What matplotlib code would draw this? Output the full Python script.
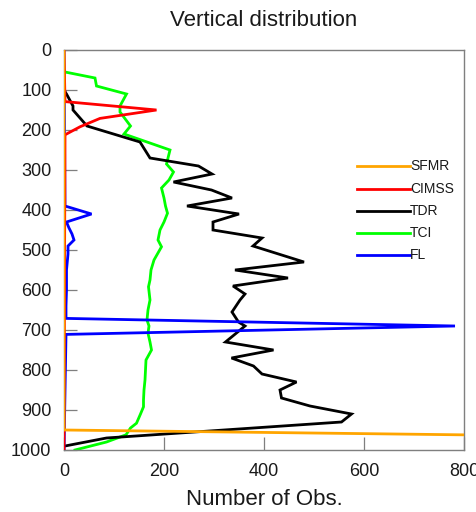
import matplotlib
matplotlib.use("Agg")
import matplotlib.pyplot as plt

plt.rcParams["font.family"] = ["Liberation Sans", "DejaVu Sans"]

# Pressure levels (hPa) and observation counts for each platform
tdr_p = [100, 110, 140, 150, 190, 230, 250, 270, 290, 310, 330, 350, 370, 390,
         410, 430, 450, 470, 490, 530, 550, 570, 590, 610, 625, 655, 680, 690,
         730, 750, 770, 790, 810, 830, 850, 870, 890, 910, 930, 970, 990]
tdr_n = [0, 5, 18, 18, 46, 152, 162, 172, 269, 296, 219, 295, 336, 246,
         350, 298, 298, 396, 378, 480, 342, 448, 338, 362, 352, 336, 349, 362,
         323, 419, 335, 379, 396, 465, 432, 435, 492, 575, 555, 85, 2]

tci_p = [50, 55, 70, 90, 110, 140, 155, 190, 210, 250, 285, 305, 325, 345,
         370, 390, 408, 430, 450, 475, 492, 525, 550, 575, 592, 625, 650, 675,
         690, 708, 730, 750, 775, 800, 825, 850, 875, 892, 910, 933, 945, 962,
         980, 1000]
tci_n = [0, 2, 62, 65, 125, 112, 112, 133, 120, 212, 205, 219, 210, 195,
         200, 203, 207, 200, 192, 188, 195, 180, 174, 172, 169, 172, 168, 166,
         170, 168, 172, 175, 164, 163, 162, 160, 159, 159, 153, 145, 133, 124,
         85, 22]

cimss_p = [0, 129, 150, 171, 192, 212, 950, 1000]
cimss_n = [0, 2, 185, 72, 32, 2, 0, 0]

fl_p = [0, 390, 410, 430, 445, 460, 475, 490, 510, 550, 600, 640, 671, 690, 711, 1000]
fl_n = [0, 2, 55, 5, 10, 16, 20, 8, 8, 5, 5, 4, 4, 782, 4, 0]

sfmr_p = [0, 950, 1000]
sfmr_n = [0, 0, 3300]

series = [
    ("SFMR", sfmr_n, sfmr_p, "#FFA500", 6),
    ("CIMSS", cimss_n, cimss_p, "#FF0000", 5.5),
    ("TDR", tdr_n, tdr_p, "#000000", 3),
    ("TCI", tci_n, tci_p, "#00FF00", 2),
    ("FL", fl_n, fl_p, "#0000FF", 5),
]

fig = plt.figure(figsize=(4.77, 5.12), dpi=100)
ax = fig.add_axes([64 / 477, 1 - 450 / 512, 400 / 477, 400 / 512])

for name, n, p, color, z in series:
    ax.plot(n, p, color=color, lw=2.0, zorder=z, solid_joinstyle="miter",
            clip_on=True)

ax.set_xlim(0, 800)
ax.set_ylim(1000, 0)
ax.set_xticks([0, 200, 400, 600, 800])
ax.set_yticks(range(0, 1001, 100))

frame_gray = "#7f7f7f"
for s in ax.spines.values():
    s.set_color(frame_gray)
    s.set_linewidth(1.0)
ax.tick_params(direction="in", length=9.5, width=0.9, color=frame_gray,
               labelsize=13, labelcolor="#1a1a1a", top=False, right=False)
ax.tick_params(axis="y", pad=9)
ax.tick_params(axis="x", pad=9)

ax.set_title("Vertical distribution", fontsize=16, color="#1a1a1a", pad=17.5)
ax.set_xlabel("Number of Obs.", fontsize=16, color="#1a1a1a", labelpad=7)

# Legend: short line samples with labels at their right end
leg_y = [166, 189, 211, 233, 255]
for (name, n, p, color, z), yp in zip(series, leg_y):
    ya = (450 - yp) / 400
    ax.plot([(357 - 64) / 400, (410 - 64) / 400], [ya, ya], color=color,
            lw=2.0, transform=ax.transAxes, clip_on=False, zorder=7)
    ax.text((410 - 64) / 400, ya, name, transform=ax.transAxes, fontsize=10,
            va="center", ha="left", color="#1a1a1a", zorder=8)

fig.savefig("out.png", dpi=100)
